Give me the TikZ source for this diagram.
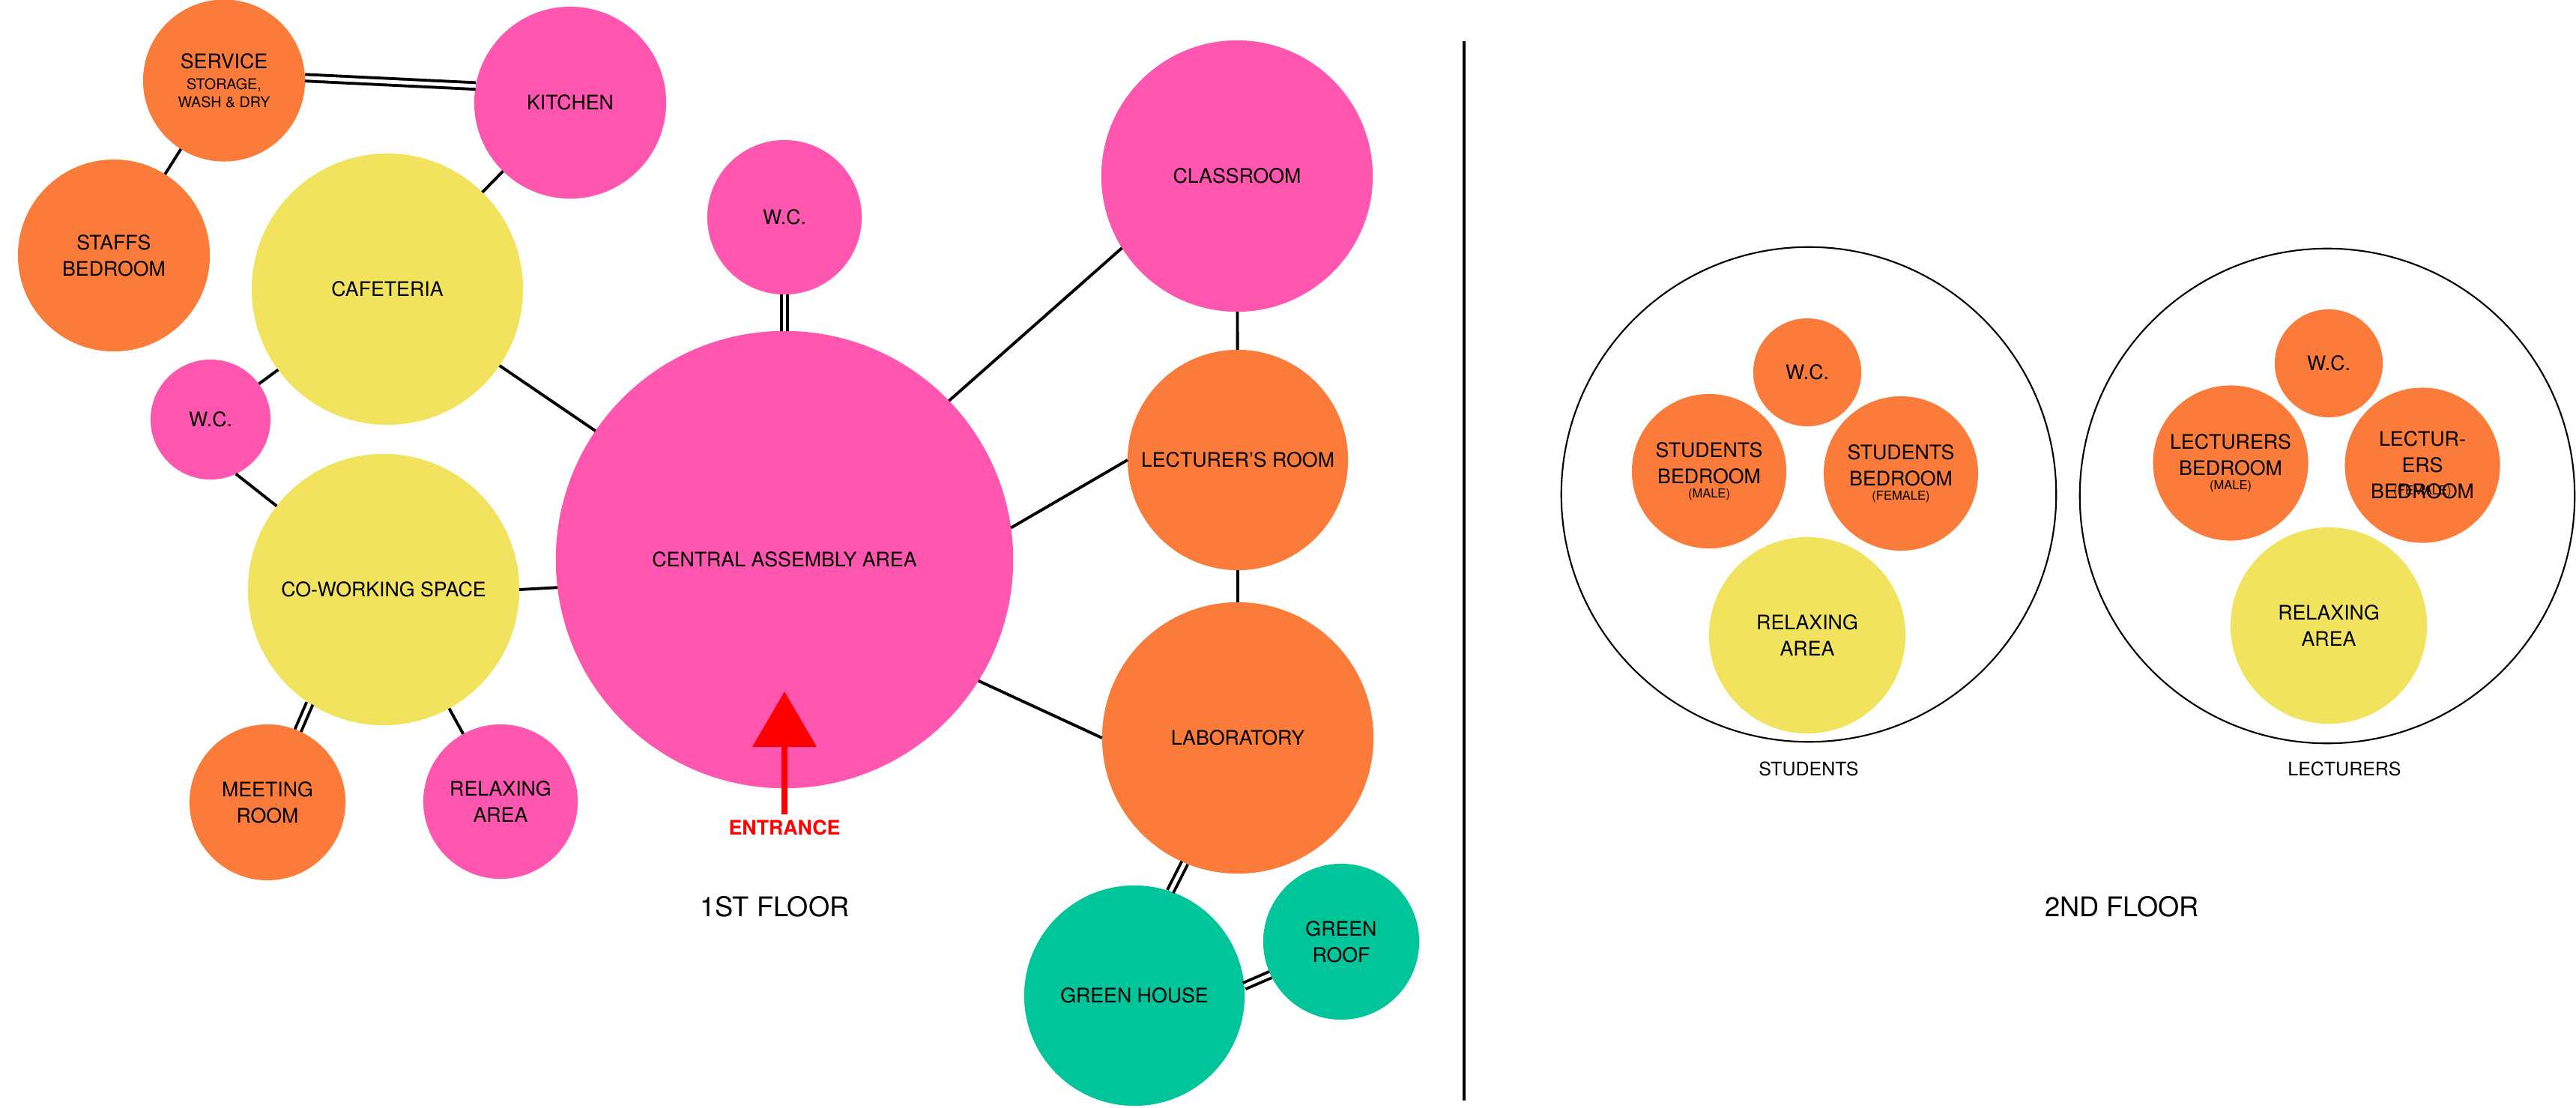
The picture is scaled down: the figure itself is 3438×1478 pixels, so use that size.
\documentclass[tikz,border=0pt]{standalone}
\usepackage{fontspec}
\setmainfont{TeX Gyre Heros}
\usetikzlibrary{arrows.meta}
\definecolor{cpink}{HTML}{FF56B0}
\definecolor{corange}{HTML}{FA7B3A}
\definecolor{cyellow}{HTML}{F2E35F}
\definecolor{cteal}{HTML}{00C59B}
\definecolor{cred}{HTML}{FF0000}
\newcommand{\fsmall}{\fontsize{5.6}{6.9}\selectfont}
\newcommand{\ftiny}{\fontsize{4.7}{5.5}\selectfont}
\begin{document}
\begin{tikzpicture}[x=0.01cm, y=-0.01cm,
  room/.style={circle, minimum size=#1*0.02cm, inner sep=0pt, outer sep=0pt, align=center,
               font=\fontsize{7.6}{10}\selectfont, text=black},
  pinkroom/.style={room=#1, fill=cpink},
  orangeroom/.style={room=#1, fill=corange},
  yellowroom/.style={room=#1, fill=cyellow},
  tealroom/.style={room=#1, fill=cteal},
  zone/.style={circle, minimum size=#1*0.02cm, inner sep=0pt, outer sep=0pt, draw=black, line width=0.6pt},
  link/.style={draw=black, line width=1.1pt},
  dlink/.style={draw=black, double=white, line width=1.1pt, double distance=1.4pt},
  floorlabel/.style={font=\fontsize{10.3}{12}\selectfont, inner sep=0pt},
  grouplabel/.style={font=\fontsize{7.1}{9}\selectfont, inner sep=0pt},
  sublabel/.style={font=\ftiny, inner sep=0pt}]
\useasboundingbox (0,0) rectangle (3438,1478);
\fill[white] (0,0) rectangle (3438,1478);

% ---------- 1st floor ----------
\node[orangeroom=108] (svc) at (299,107.5) {SERVICE\\[-2pt]{\fsmall STORAGE,}\\[-3.1pt]{\fsmall WASH \& DRY}};
\node[pinkroom=128]   (kit) at (761,137) {KITCHEN};
\node[orangeroom=128] (stf) at (152,341) {STAFFS\\BEDROOM};
\node[yellowroom=181] (caf) at (517,386) {CAFETERIA};
\node[pinkroom=80]    (wcl) at (281,560) {W.C.};
\node[yellowroom=181] (cw)  at (512,787) {CO-WORKING SPACE};
\node[orangeroom=104] (mt)  at (357,1071) {MEETING\\ROOM};
\node[pinkroom=103]   (rlx) at (668,1070) {RELAXING\\AREA};
\node[pinkroom=103]   (wct) at (1047,290) {W.C.};
\node[pinkroom=305]   (cen) at (1047,747) {CENTRAL ASSEMBLY AREA};
\node[pinkroom=181]   (cls) at (1651,235) {CLASSROOM};
\node[orangeroom=147] (lec) at (1652,614) {LECTURER’S ROOM};
\node[orangeroom=181] (lab) at (1652,985) {LABORATORY};
\node[tealroom=147]   (gh)  at (1514,1329) {GREEN HOUSE};
\node[tealroom=104]   (gr)  at (1790,1257) {GREEN\\ROOF};

\draw[dlink] (svc.2) -- (kit.170.5);
\draw[link] (svc) -- (stf);
\draw[link] (kit) -- (caf);
\draw[link] (caf) -- (wcl);
\draw[link] (caf) -- (cen);
\draw[link] (wcl.-65) -- (cw.142);
\draw[link] (cw.0) -- (cen.187.5);
\draw[dlink] (cw.-123) -- (mt.67);
\draw[link] (cw) -- (rlx);
\draw[dlink] (wct) -- (cen);
\draw[link] (cen.44.5) -- (cls.212.6);
\draw[link] (cen.8.3) -- (lec.180);
\draw[link] (cen.-32.2) -- (lab.180);
\draw[link] (cls) -- (lec);
\draw[link] (lec) -- (lab);
\draw[dlink] (lab.-113) -- (gh.71);
\draw[dlink] (gh.5) -- (gr.205);

\node[font=\bfseries\fontsize{7.6}{9}\selectfont, text=cred, inner sep=0pt] (ent) at (1047,1105) {ENTRANCE};
\coordinate (etip) at (1047,923);
\draw[cred, line width=0.08cm, -{Triangle[width=0.84cm,length=0.74cm]}] ([yshift=0.07cm]ent.north) -- (etip);

\node[floorlabel] (f1) at (1034,1210) {1ST FLOOR};

% ---------- divider ----------
\coordinate (d1) at (1954,55);
\coordinate (d2) at (1954,1469);
\draw[line width=1.3pt] (d1) -- (d2);

% ---------- 2nd floor ----------
\node[zone=330] (sz) at (2414,660) {};
\node[orangeroom=72]  (swc) at (2412,497) {W.C.};
\node[orangeroom=103] (sbm) at (2281,629) {STUDENTS\\BEDROOM\\[-4.6pt]{\ftiny (MALE)}};
\node[orangeroom=103] (sbf) at (2537,632) {STUDENTS\\BEDROOM\\[-4.6pt]{\ftiny (FEMALE)}};
\node[yellowroom=131] (sra) at (2412,848) {RELAXING\\AREA};
\node[grouplabel] (sl) at (2414,1026) {STUDENTS};

\node[zone=330] (lz) at (3106,662) {};
\node[orangeroom=72]    (lwc) at (3108,485) {W.C.};
\node[orangeroom=103.5] (lbm) at (2977,618) {LECTURERS\\BEDROOM\\[-4.7pt]{\ftiny (MALE)}};
\node[orangeroom=103.5] (lbf) at (3233,621) {LECTUR-\\ERS\\BEDROOM};
\node[sublabel, anchor=base] (lbfs) at (3233,660) {(FEMALE)};
\node[yellowroom=131]   (lra) at (3108,835) {RELAXING\\AREA};
\node[grouplabel] (ll) at (3129,1026) {LECTURERS};

\node[floorlabel] (f2) at (2832,1210) {2ND FLOOR};
\end{tikzpicture}
\end{document}
